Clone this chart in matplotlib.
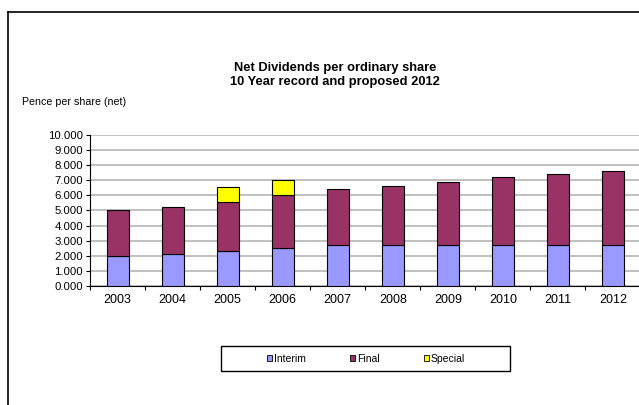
import matplotlib.pyplot as plt
from matplotlib.patches import Patch, Rectangle
from matplotlib.lines import Line2D
from matplotlib.ticker import FormatStrFormatter, MultipleLocator
import numpy as np

plt.rcParams['font.family'] = ['Liberation Sans', 'DejaVu Sans']

years = ['2003', '2004', '2005', '2006', '2007', '2008', '2009', '2010', '2011', '2012']
interim = [2.0, 2.1, 2.3, 2.5, 2.7, 2.7, 2.7, 2.7, 2.7, 2.7]
final = [3.0, 3.1, 3.25, 3.5, 3.7, 3.9, 4.2, 4.5, 4.7, 4.9]
special = [0.0, 0.0, 1.0, 1.0, 0.0, 0.0, 0.0, 0.0, 0.0, 0.0]

colors = {"Interim": "#9999FF", "Final": "#993366", "Special": "#FFFF00"}

W, H = 639, 405
fig = plt.figure(figsize=(W / 100, H / 100), dpi=100)
ax = fig.add_axes([90 / W, 1 - 286 / H, (640.5 - 90) / W, (286 - 135) / H])

x = np.arange(len(years))
bw = 0.4
base2 = np.array(interim) + np.array(final)
ax.bar(x, interim, bw, color=colors["Interim"], edgecolor='black', linewidth=0.8, zorder=3)
ax.bar(x, final, bw, bottom=interim, color=colors["Final"], edgecolor='black', linewidth=0.8, zorder=3)
sp = np.array(special)
mask = sp > 0
ax.bar(x[mask], sp[mask], bw, bottom=base2[mask], color=colors["Special"], edgecolor='black',
       linewidth=0.8, zorder=3)

ax.set_xlim(-0.5, len(years) - 0.5)
ax.set_ylim(0, 10)
ax.yaxis.set_major_locator(MultipleLocator(1))
ax.yaxis.set_major_formatter(FormatStrFormatter('%.3f'))
ax.set_xticks(x)
ax.set_xticklabels(years, fontsize=9)
ax.set_xticks(np.arange(-0.5, len(years), 1), minor=True)
ax.tick_params(axis='x', which='major', length=0, pad=6)
ax.tick_params(axis='x', which='minor', length=3, direction='out', width=0.8)
ax.tick_params(axis='y', labelsize=8.2, length=3, width=0.8, pad=2)
ax.grid(axis='y', color='#C0C0C0', linewidth=1.4, zorder=0)
ax.set_axisbelow(True)
for s in ['top', 'right']:
    ax.spines[s].set_visible(False)
for s in ['left', 'bottom']:
    ax.spines[s].set_linewidth(0.8)

fig.text(335 / W, 1 - 68 / H, "Net Dividends per ordinary share", ha='center', va='center',
         fontsize=9.3, fontweight='bold')
fig.text(335 / W, 1 - 82 / H, "10 Year record and proposed 2012", ha='center', va='center',
         fontsize=9.3, fontweight='bold')
fig.text(22 / W, 1 - 102 / H, "Pence per share (net)", ha='left', va='center', fontsize=7.7)

# outer chart frame
fig.add_artist(Line2D([8 / W, 8 / W], [0, 1 - 12 / H], transform=fig.transFigure, color='black', lw=1.2))
fig.add_artist(Line2D([8 / W, 1], [1 - 12 / H, 1 - 12 / H], transform=fig.transFigure, color='black', lw=1.2))

# legend
fig.add_artist(Rectangle((221 / W, 1 - 371 / H), (510 - 221) / W, (371 - 346) / H,
                         transform=fig.transFigure, fill=False, edgecolor='black', lw=1))
handles = [Patch(facecolor=colors[k], edgecolor='black', linewidth=0.6) for k in colors]
fig.legend(handles, list(colors.keys()), loc='center', bbox_to_anchor=(366 / W, 1 - 358.5 / H),
           ncol=3, frameon=False, fontsize=7.5, handlelength=0.5, handleheight=0.5,
           handletextpad=0.2, columnspacing=4.2)

fig.savefig('out.png', dpi=100)
